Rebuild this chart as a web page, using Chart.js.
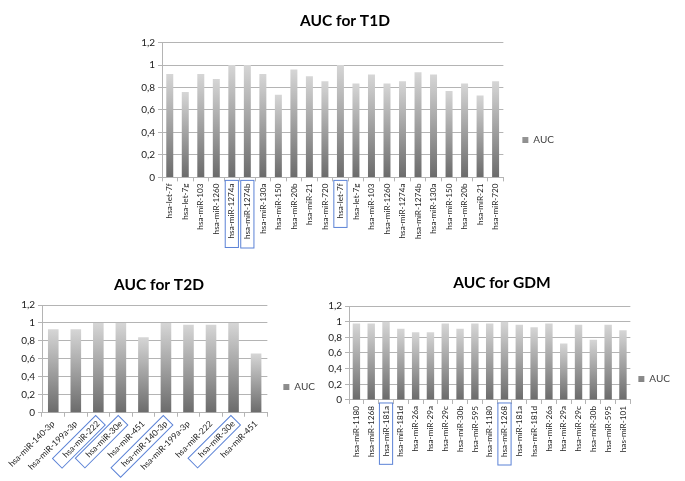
<!DOCTYPE html>
<html>
<head>
<meta charset="utf-8">
<script src="https://cdn.jsdelivr.net/npm/chart.js@4"></script>
<style>
  body { margin: 0; background: #fff; width: 685px; height: 481px; position: relative; overflow: hidden; }
  .box { position: absolute; }
</style>
</head>
<body>
<div class="box" style="left:120px;top:0px;width:454px;height:252px"><canvas id="t1d" width="454" height="252"></canvas></div>
<div class="box" style="left:-10px;top:270px;width:338px;height:208px"><canvas id="t2d" width="338" height="208"></canvas></div>
<div class="box" style="left:320px;top:270px;width:365px;height:200px"><canvas id="gdm" width="365" height="200"></canvas></div>
<script>
// ---- data ----
const t1dLabels = ['hsa-let-7f', 'hsa-let-7g', 'hsa-miR-103', 'hsa-miR-1260', 'hsa-miR-1274a', 'hsa-miR-1274b',
  'hsa-miR-130a', 'hsa-miR-150', 'hsa-miR-20b', 'hsa-miR-21', 'hsa-miR-720', 'hsa-let-7f', 'hsa-let-7g',
  'hsa-miR-103', 'hsa-miR-1260', 'hsa-miR-1274a', 'hsa-miR-1274b', 'hsa-miR-130a', 'hsa-miR-150',
  'hsa-miR-20b', 'hsa-miR-21', 'hsa-miR-720'];
const t1dAuc = [0.92, 0.76, 0.92, 0.875, 1.0, 1.0, 0.92, 0.735, 0.96, 0.90, 0.855, 1.0, 0.835,
  0.915, 0.835, 0.855, 0.935, 0.915, 0.77, 0.835, 0.73, 0.855];
const t1dMarked = [4, 5, 11];

const t2dLabels = ['hsa-miR-140-3p', 'hsa-miR-199a-3p', 'hsa-miR-222', 'hsa-miR-30e', 'hsa-miR-451',
  'hsa-miR-140-3p', 'hsa-miR-199a-3p', 'hsa-miR-222', 'hsa-miR-30e', 'hsa-miR-451'];
const t2dAuc = [0.93, 0.93, 1.0, 1.0, 0.84, 1.0, 0.98, 0.98, 1.0, 0.66];
const t2dMarked = [2, 3, 5, 8];

const gdmLabels = ['hsa-miR-1180', 'hsa-miR-1268', 'hsa-miR-181a', 'hsa-miR-181d', 'hsa-miR-26a',
  'hsa-miR-29a', 'hsa-miR-29c', 'hsa-miR-30b', 'hsa-miR-595', 'hsa-miR-1180', 'hsa-miR-1268',
  'hsa-miR-181a', 'hsa-miR-181d', 'hsa-miR-26a', 'hsa-miR-29a', 'hsa-miR-29c', 'hsa-miR-30b',
  'hsa-miR-595', 'has-miR-101'];
const gdmAuc = [0.975, 0.975, 1.0, 0.91, 0.865, 0.865, 0.975, 0.91, 0.975, 0.975, 1.0,
  0.96, 0.93, 0.975, 0.72, 0.96, 0.77, 0.96, 0.89];
const gdmMarked = [2, 10];

const yTicks = [0, 0.2, 0.4, 0.6, 0.8, 1, 1.2];

const FONT = 'Lato, "Open Sans", sans-serif';
const GRID = '#b4b4b4';

// each bar light at the top, dark at the base (Excel gradient look)
function barFill(ctx) {
    const chart = ctx.chart;
    if (ctx.type !== 'data' || !chart.chartArea || !ctx.parsed) return '#8e8e8e';
    const y = chart.scales.y;
    const top = y.getPixelForValue(ctx.parsed.y);
    const base = y.getPixelForValue(0);
    const g = chart.ctx.createLinearGradient(0, top, 0, base);
    g.addColorStop(0, '#d6d6d6');
    g.addColorStop(1, '#6b6b6b');
    return g;
}

// blue frames round some of the category labels
const labelBoxes = {
    id: 'labelBoxes',
    afterDraw(chart, args, opts) {
        const xs = chart.scales.x;
        const items = xs.getLabelItems();
        const c = chart.ctx;
        c.save();
        c.strokeStyle = '#5b82d6';
        c.lineWidth = 1;
        (opts.indices || []).forEach(i => {
            const it = items[i];
            if (!it) return;
            c.font = it.font.string;
            const w = c.measureText(it.label).width;
            const h = it.font.size;
            const o = it.options;
            c.save();
            c.translate(o.translation[0], o.translation[1]);
            c.rotate(o.rotation);
            let top = it.textOffset;
            if (o.textBaseline === 'middle') top -= h / 2;
            else if (o.textBaseline === 'bottom') top -= h;
            const left = o.textAlign === 'right' ? -w : 0;
            c.strokeRect(left - opts.far, top - opts.side, w + opts.far + opts.near, h + opts.side * 2);
            c.restore();
        });
        c.restore();
    }
};

function makeChart(id, title, labels, values, marked, cfg) {
    return new Chart(document.getElementById(id), {
        type: 'bar',
        data: {
            labels: labels,
            datasets: [{
                label: 'AUC',
                data: values,
                backgroundColor: barFill,
                barPercentage: cfg.barPct,
                categoryPercentage: 1
            }]
        },
        options: {
            responsive: false,
            animation: false,
            layout: { padding: cfg.padding },
            plugins: {
                title: {
                    display: true,
                    text: title,
                    color: '#000',
                    font: { family: FONT, size: 15.5, weight: 'bold' },
                    padding: cfg.titlePad
                },
                legend: {
                    position: 'right',
                    // empty title only pushes the single item down
                    title: { display: true, text: ' ', font: { size: 1 }, padding: { top: cfg.legendShift, bottom: 0 } },
                    labels: {
                        boxWidth: 6,
                        boxHeight: 6,
                        padding: cfg.legendPad,
                        color: '#404040',
                        font: { family: FONT, size: 10 }
                    }
                },
                tooltip: { enabled: false },
                labelBoxes: { indices: marked, near: 3, far: cfg.boxFar, side: 2.5 }
            },
            scales: {
                x: {
                    grid: { display: true, drawOnChartArea: false, offset: true, color: GRID, tickLength: 4 },
                    border: { color: GRID },
                    ticks: {
                        autoSkip: false,
                        minRotation: cfg.rotation,
                        maxRotation: cfg.rotation,
                        padding: 2,
                        color: '#222',
                        font: { family: FONT, size: cfg.tickSize }
                    }
                },
                y: {
                    min: 0,
                    max: 1.2,
                    afterBuildTicks: axis => { axis.ticks = yTicks.map(v => ({ value: v })); },
                    afterFit: axis => { axis.width = cfg.yWidth; },
                    grid: { color: GRID, tickLength: 4 },
                    border: { color: GRID },
                    ticks: {
                        padding: 3,
                        color: '#222',
                        font: { family: FONT, size: 10 },
                        callback: v => String(Math.round(v * 10) / 10).replace('.', ',')
                    }
                }
            }
        },
        plugins: [labelBoxes]
    });
}

makeChart('t1d', 'AUC for T1D', t1dLabels, t1dAuc, t1dMarked, {
    barPct: 0.45, rotation: 90, tickSize: 8.2, yWidth: 36, legendPad: 19, legendShift: 37.8, boxFar: 9,
    titlePad: { top: 12, bottom: 12 }, padding: { left: 6, right: 10, bottom: 11 }
});
makeChart('t2d', 'AUC for T2D', t2dLabels, t2dAuc, t2dMarked, {
    barPct: 0.47, rotation: 45, tickSize: 8.5, yWidth: 49, legendPad: 16, legendShift: 28.8, boxFar: 10,
    titlePad: { top: 6, bottom: 10.4 }, padding: { left: 3, right: 3, bottom: 4 }
});
makeChart('gdm', 'AUC for GDM', gdmLabels, gdmAuc, gdmMarked, {
    barPct: 0.5, rotation: 90, tickSize: 8.2, yWidth: 25, legendPad: 8, legendShift: 27.8, boxFar: 8,
    titlePad: { top: 4, bottom: 13.4 }, padding: { left: 4, right: 5, bottom: 11 }
});
</script>
</body>
</html>
